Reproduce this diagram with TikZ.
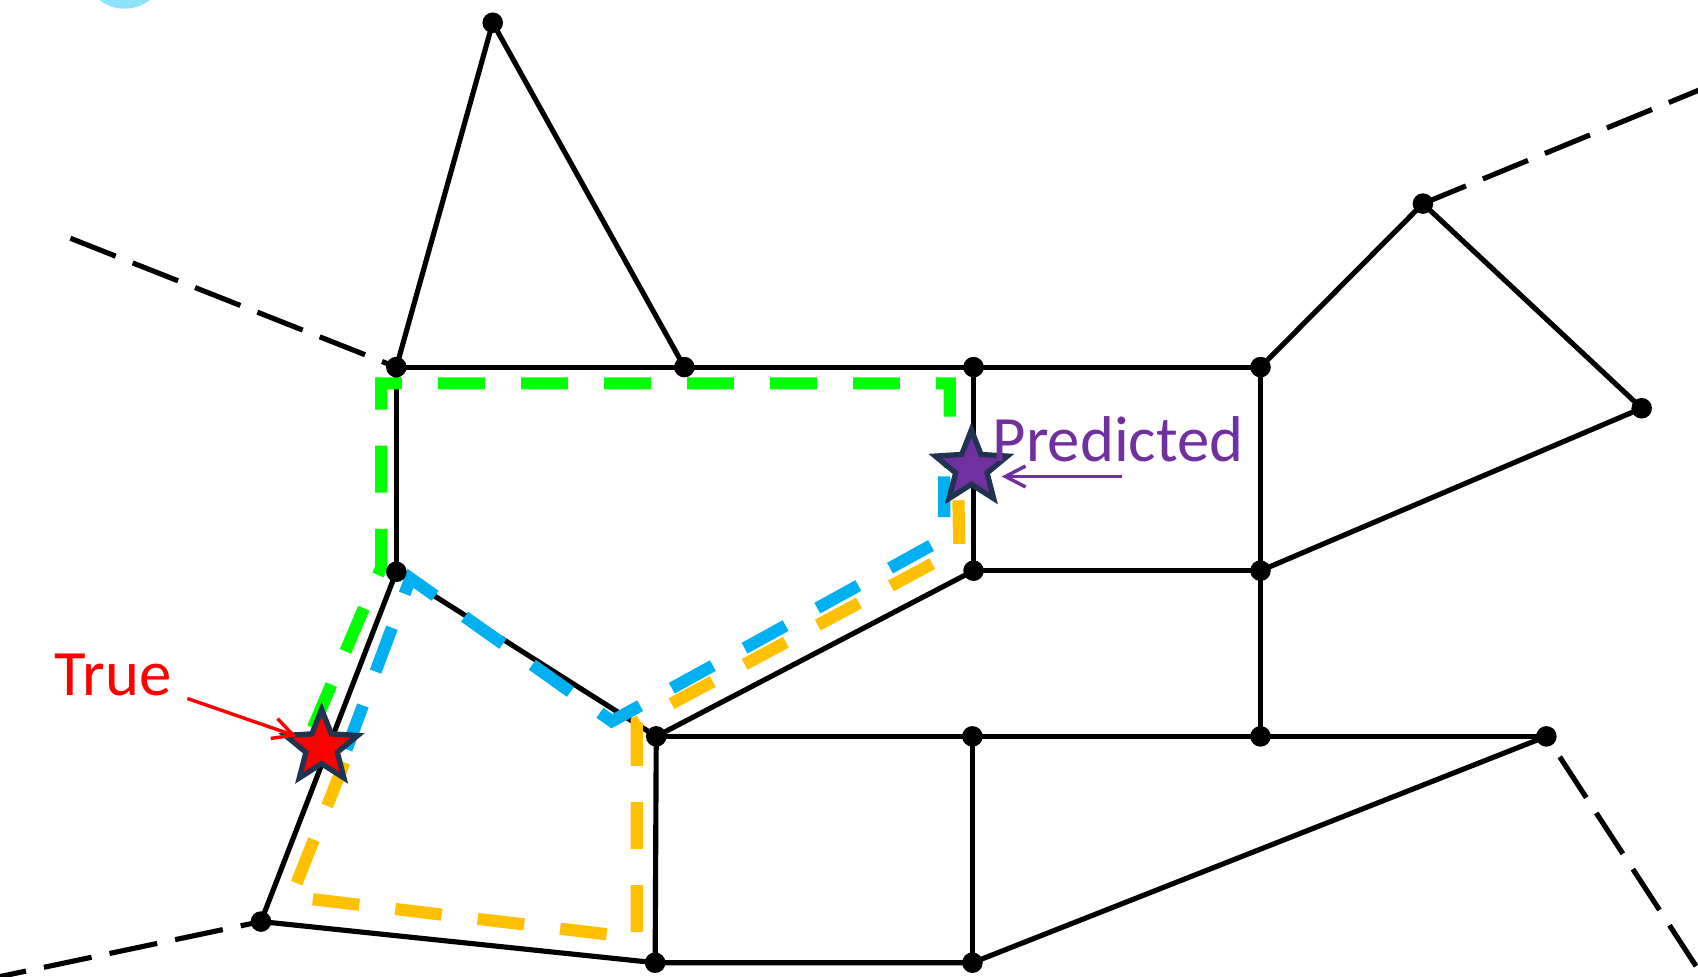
\documentclass[tikz,border=0pt]{standalone}
\usepackage{fontspec}
\setmainfont{Carlito}
\usetikzlibrary{shapes.geometric,arrows.meta}
\definecolor{pgreen}{RGB}{0,255,0}
\definecolor{pblue}{RGB}{0,176,240}
\definecolor{porange}{RGB}{255,192,0}
\definecolor{ppurple}{RGB}{112,48,160}
\definecolor{pnavy}{RGB}{32,52,82}
\definecolor{pcyan}{RGB}{140,228,250}
\begin{document}
\begin{tikzpicture}[x=0.01cm,y=-0.01cm,
  edge/.style={line width=1.35pt, black},
  bdash/.style={edge, dash pattern=on 12.8pt off 4.8pt},
  route/.style={line width=3.2pt, dash pattern=on 12.3pt off 9.5pt, line join=miter},
  starnode/.style={star, star points=5, star point ratio=2.3, minimum size=0.7cm, inner sep=0pt, draw=pnavy, line width=1.4pt},
  lbl/.style={inner sep=0pt, anchor=base west, font=\fontsize{17}{20}\selectfont},
  pointer/.style={line width=0.9pt, -{Straight Barb[length=5.3pt,width=5.5pt]}}
]
\useasboundingbox (0,0) rectangle (1568,902);
\clip (0,0) rectangle (1568,902);
% partial circle top-left
\fill[pcyan] (115,-30) circle[radius=0.38cm];
% vertices
\coordinate (A) at (455,21);
\coordinate (B) at (366,339);
\coordinate (C) at (632,339);
\coordinate (D) at (899,339);
\coordinate (E) at (1164,339);
\coordinate (F) at (1314,188);
\coordinate (G) at (1516,377);
\coordinate (H) at (366,528);
\coordinate (I) at (899,527);
\coordinate (J) at (1164,527);
\coordinate (K) at (606,680);
\coordinate (L) at (898,680);
\coordinate (M) at (1164,680);
\coordinate (N) at (1428,680);
\coordinate (O) at (241,851);
\coordinate (P) at (605,889);
\coordinate (Q) at (898,889);
% outer ends of dashed edges
\coordinate (W1) at (65,220);
\coordinate (W2) at (-20,906);
\coordinate (W3) at (1640,54);
\coordinate (W4) at (1600,944);
% solid edges
\draw[edge] (A) -- (B);
\draw[edge] (A) -- (C);
\draw[edge] (B) -- (C) -- (D) -- (E);
\draw[edge] (E) -- (F) -- (G) -- (J);
\draw[edge] (D) -- (I);
\draw[edge] (E) -- (J) -- (M);
\draw[edge] (I) -- (J);
\draw[edge] (B) -- (H);
\draw[edge] (H) -- (K);
\draw[edge] (I) -- (K);
\draw[edge] (K) -- (L) -- (M) -- (N);
\draw[edge] (K) -- (P) -- (Q) -- (N);
\draw[edge] (L) -- (Q);
\draw[edge] (H) -- (O) -- (P);
% dashed edges
\draw[bdash] (W1) -- (B);
\draw[bdash] (W2) -- (O);
\draw[bdash] (W3) -- (F);
\draw[bdash] (W4) -- (N);
% routes
\draw[route, pgreen] (289,672) -- (352,524) -- (352,354) -- (877,354) -- (877,432);
\draw[route, pblue] (320,692) -- (379,534) -- (565,666) -- (872,497) -- (872,440);
\draw[route, porange] (318,704) -- (269,828) -- (588,866) -- (588,667) -- (886,507) -- (885,462);
% dots
\foreach \v in {A,B,C,D,E,F,G,H,I,J,K,L,M,N,O,P,Q}
  \fill (\v) circle[radius=0.095cm];
% stars
\node[starnode, fill=red] (truestar) at (297,690) {};
\node[starnode, fill=ppurple] (predstar) at (897,432) {};
% labels
\node[lbl, text=red] (truelbl) at (50,642) {True};
\node[lbl, text=ppurple] (predlbl) at (916,426) {Predicted};
% pointers
\coordinate (ta) at (173,645);
\coordinate (tb) at (274,680);
\draw[pointer, red] (ta) -- (tb);
\coordinate (pa) at (1036,440);
\coordinate (pb) at (925,440);
\draw[pointer, ppurple] (pa) -- (pb);
\end{tikzpicture}
\end{document}
